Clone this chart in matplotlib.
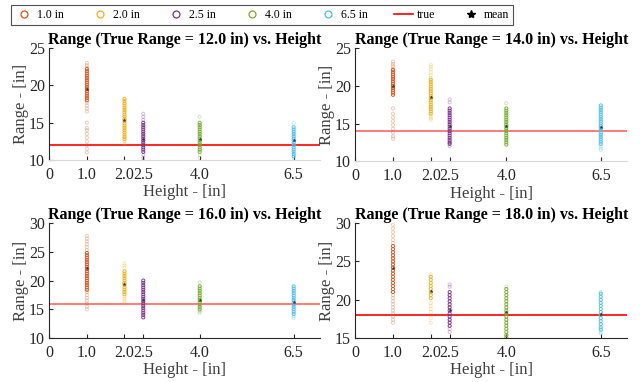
import numpy as np
import matplotlib.pyplot as plt
from matplotlib.lines import Line2D

plt.rcParams['font.family'] = ['Liberation Serif', 'DejaVu Serif']

heights = [1.0, 2.0, 2.5, 4.0, 6.5]
height_labels = ['1.0 in', '2.0 in', '2.5 in', '4.0 in', '6.5 in']
colors = ['#D95319', '#EDB120', '#7E2F8E', '#77AC30', '#4DBEEE']
true_ranges = [12.0, 14.0, 16.0, 18.0]

# dense (dark) measurements per height, one list per panel
core_12 = [
    [22.2, 21.9, 21.6, 21.3, 21.0, 20.7, 20.4, 20.1, 19.8, 19.5, 19.2, 18.9, 18.6, 18.3, 18.0],
    [18.2, 17.9, 17.6, 17.3, 17.0, 16.7, 16.4, 16.1, 15.8, 15.5, 15.2, 14.9, 14.6, 14.3, 14.0, 13.7, 13.4, 13.1, 12.8],
    [15.0, 14.7, 14.4, 14.1, 13.8, 13.5, 13.2, 12.9, 12.6, 12.3, 12.0, 11.7, 11.4, 11.1],
    [15.0, 14.7, 14.4, 14.1, 13.8, 13.5, 13.2, 12.9, 12.6, 12.3, 12.0, 11.7, 11.4, 11.1],
    [14.4, 14.1, 13.8, 13.5, 13.2, 12.9, 12.6, 12.3, 12.0, 11.7, 11.4, 11.1, 10.8, 10.5],
]
faint_12 = [
    [23.0, 22.7, 22.4, 17.7, 17.3, 16.9, 16.5, 15.0, 14.3, 14.0, 13.5, 13.0, 12.5, 12.0, 11.5, 11.0],
    [12.5, 12.2],
    [16.2, 15.8, 15.4, 10.7, 10.3, 9.9],
    [15.8, 10.7, 10.3],
    [15.0, 10.2],
]
means_12 = [19.5, 15.4, 12.8, 12.8, 12.7]

core_14 = [
    [22.1, 21.8, 21.5, 21.2, 20.9, 20.6, 20.3, 20.0, 19.7, 19.4, 19.1, 18.8],
    [20.8, 20.5, 20.2, 19.9, 19.6, 19.3, 19.0, 18.7, 18.4, 18.1, 17.8, 17.5, 17.2, 16.9, 16.6, 16.3],
    [17.0, 16.7, 16.4, 16.1, 15.8, 15.5, 15.2, 14.9, 14.6, 14.3, 14.0, 13.7, 13.4, 13.1, 12.8, 12.5, 12.3],
    [17.0, 16.7, 16.4, 16.1, 15.8, 15.5, 15.2, 14.9, 14.6, 14.3, 14.0, 13.7, 13.4, 13.1, 12.8, 12.5, 12.2],
    [17.4, 17.1, 16.8, 16.5, 16.2, 15.9, 15.6, 15.3, 15.0, 14.7, 14.4, 14.1, 13.8, 13.5, 13.2, 12.9, 12.6, 12.3],
]
faint_14 = [
    [23.2, 22.9, 22.6, 22.3, 17.0, 16.3, 15.8, 15.3, 14.8, 14.3, 13.8, 13.3, 13.0],
    [22.8, 22.5, 22.2, 21.8, 21.4, 21.0, 16.0, 15.7, 15.5],
    [18.2, 17.8, 12.0],
    [17.7],
    [12.0, 11.7, 11.5],
]
means_14 = [20.0, 18.5, 14.7, 14.7, 14.5]

core_16 = [
    [24.8, 24.4, 24.0, 23.6, 23.2, 22.8, 22.4, 22.0, 21.6, 21.2, 20.8, 20.4, 20.0, 19.6, 19.2, 18.8, 18.4],
    [21.6, 21.2, 20.8, 20.4, 20.0, 19.6, 19.2, 18.8, 18.4, 18.0, 17.6],
    [20.0, 19.6, 19.2, 18.8, 18.4, 18.0, 17.6, 17.2, 16.8, 16.4, 16.0, 15.6, 15.2, 14.8, 14.4, 14.0, 13.6],
    [19.0, 18.6, 18.2, 17.8, 17.4, 17.0, 16.6, 16.2, 15.8, 15.4, 15.0],
    [19.0, 18.6, 18.2, 17.8, 17.4, 17.0, 16.6, 16.2, 15.8, 15.4, 15.0, 14.6, 14.2],
]
faint_16 = [
    [27.8, 27.3, 26.8, 26.3, 25.8, 25.3, 18.0, 17.5, 17.0, 16.5, 16.0, 15.5, 15.0],
    [23.0, 22.6, 22.2, 17.2, 16.8, 16.4, 16.0],
    [],
    [19.7, 14.7, 14.4],
    [13.8, 13.5],
]
means_16 = [22.2, 19.4, 16.6, 16.6, 16.2]

core_18 = [
    [27.0, 26.6, 26.2, 25.8, 25.4, 25.0, 24.6, 24.2, 23.8, 23.4, 23.0, 22.6, 22.2, 21.8, 21.4, 21.0],
    [23.0, 22.6, 22.2, 21.8, 21.4, 21.0, 20.6, 20.2],
    [21.0, 20.6, 20.2, 19.8, 19.4, 19.0, 18.6, 18.2, 17.8, 17.4, 17.0, 16.6],
    [21.4, 21.0, 20.6, 20.2, 19.8, 19.4, 19.0, 18.6, 18.2, 17.8, 17.4, 17.0, 16.6, 16.2, 15.8, 15.4, 15.1],
    [20.8, 20.4, 20.0, 19.6, 19.2, 18.8, 18.4, 18.0, 17.6, 17.2, 16.8, 16.4, 16.1],
]
faint_18 = [
    [29.8, 29.3, 28.8, 28.3, 27.8, 27.4, 20.6, 20.2, 19.8, 19.4, 19.0, 18.6, 18.2, 17.8, 17.4, 17.0],
    [23.3, 19.6, 19.2, 18.8, 18.4, 17.6, 17.0],
    [22.0, 21.7, 16.2, 15.8],
    [21.7],
    [21.0, 15.8, 15.6],
]
means_18 = [24.1, 21.2, 18.6, 18.4, 18.2]

panels = [
    (core_12, faint_12, means_12, (10, 25), [10, 15, 20, 25]),
    (core_14, faint_14, means_14, (10, 25), [10, 15, 20, 25]),
    (core_16, faint_16, means_16, (10, 30), [10, 15, 20, 25, 30]),
    (core_18, faint_18, means_18, (15, 30), [15, 20, 25, 30]),
]
line_alpha = [1.0, 0.6, 0.6, 1.0]

fig = plt.figure(figsize=(6.4, 3.82), dpi=100)
boxes = [
    [0.077, 0.581, 0.423, 0.293],
    [0.555, 0.578, 0.425, 0.296],
    [0.077, 0.115, 0.423, 0.301],
    [0.555, 0.115, 0.425, 0.301],
]

for k, (core, faint, means, ylim, yticks) in enumerate(panels):
    ax = fig.add_axes(boxes[k])
    for h, c, cv, fv in zip(heights, colors, core, faint):
        ax.scatter([h] * len(fv), fv, s=5, facecolors='none', edgecolors=c,
                   linewidths=0.7, alpha=0.3, zorder=2)
        ax.scatter([h] * len(cv), cv, s=5, facecolors='none', edgecolors=c,
                   linewidths=0.7, alpha=0.95, zorder=3)
    ax.axhline(true_ranges[k], color='red', lw=1.2, alpha=line_alpha[k], zorder=1)
    ax.scatter(heights, means, marker='*', s=10, color='#333333', linewidths=0, zorder=4)
    ax.set_xlim(0, 7.2)
    ax.set_ylim(*ylim)
    ax.set_yticks(yticks)
    ax.set_xticks([0] + heights)
    ax.set_xticklabels(['0', '1.0', '2.0', '2.5', '4.0', '6.5'])
    ax.tick_params(direction='in', length=3, labelsize=11.5, colors='#262626')
    ax.tick_params(axis='x', pad=5)
    ax.tick_params(axis='y', pad=3)
    ax.spines['top'].set_visible(False)
    ax.spines['right'].set_visible(False)
    if k < 2:
        ax.spines['bottom'].set_color('#d8d8d8')
        ax.spines['left'].set_color('#262626')
    else:
        ax.spines['bottom'].set_color('#262626')
        ax.spines['left'].set_color('#262626')
    ax.set_xlabel('Height - [in]', fontsize=12, color='#404040', labelpad=1)
    ax.set_ylabel('Range - [in]', fontsize=12, color='#404040', labelpad=0)
    ax.set_title('Range (True Range = %.1f in) vs. Height' % true_ranges[k],
                 fontsize=11.5, fontweight='bold', pad=2)

handles = [Line2D([], [], ls='none', marker='o', mfc='none', mec=c, ms=5, mew=0.9)
           for c in colors]
handles.append(Line2D([], [], color='red', lw=1.2))
handles.append(Line2D([], [], ls='none', marker='*', color='black', ms=6))
labels = height_labels + ['true', 'mean']
leg = fig.legend(handles, labels, loc='lower left', bbox_to_anchor=(0.017, 0.934, 0.785, 0.06),
                 mode='expand', ncol=7, fontsize=8.5, frameon=True, fancybox=False,
                 handlelength=1.6, handletextpad=0.3, borderaxespad=0, borderpad=0.35)
leg.get_frame().set_edgecolor('#262626')
leg.get_frame().set_linewidth(0.8)

plt.savefig('out.png', dpi=100)
